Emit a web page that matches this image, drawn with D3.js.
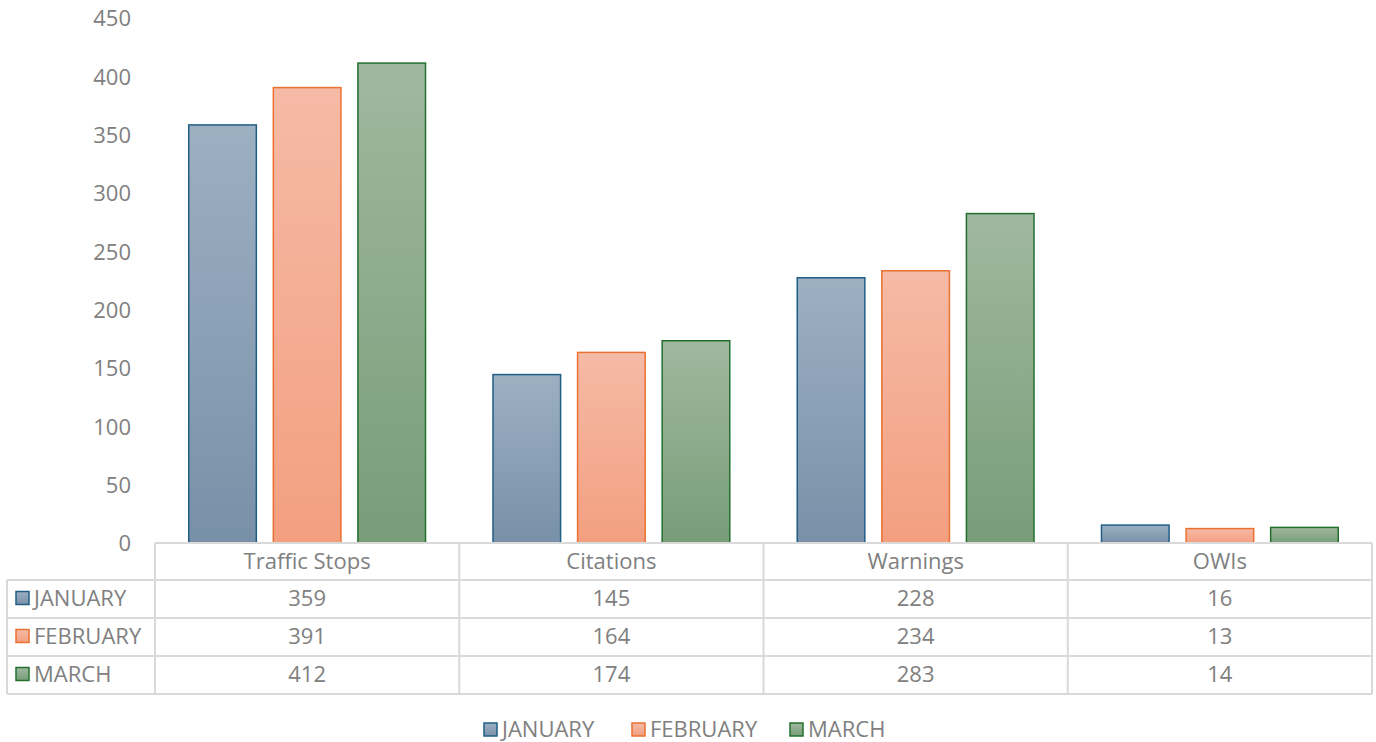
<!DOCTYPE html>
<html><head><meta charset="utf-8">
<script src="https://cdn.jsdelivr.net/npm/d3@7"></script>
<style>body{margin:0;background:#fff;}text{font-family:"Open Sans","Liberation Sans",sans-serif;fill:#808080;}</style>
</head><body>
<svg id="c" width="1376" height="742"></svg>
<script>
const categories = ["Traffic Stops", "Citations", "Warnings", "OWIs"];
const seriesNames = ["JANUARY", "FEBRUARY", "MARCH"];
const january = [359, 145, 228, 16];
const february = [391, 164, 234, 13];
const march = [412, 174, 283, 14];
const yTicks = [0, 50, 100, 150, 200, 250, 300, 350, 400, 450];
const seriesValues = [january, february, march];

const fills = [["#9db0c2", "#7890a8"], ["#f5baa6", "#f39f80"], ["#a0b8a0", "#789d78"]];
const strokes = ["#1f5f85", "#e97132", "#22702e"];
const fs = "22px";

const svg = d3.select("#c");
const defs = svg.append("defs");
fills.forEach((f, i) => {
  const g = defs.append("linearGradient").attr("id", "g" + i).attr("x1", 0).attr("y1", 0).attr("x2", 0).attr("y2", 1);
  g.append("stop").attr("offset", "0%").attr("stop-color", f[0]);
  g.append("stop").attr("offset", "100%").attr("stop-color", f[1]);
});

const plotLeft = 155, plotRight = 1372, plotTop = 18, base = 543;
const x = d3.scaleBand().domain(categories).range([plotLeft, plotRight]).paddingInner(0).paddingOuter(0);
const y = d3.scaleLinear().domain([0, 450]).range([base, plotTop]);
const xs = d3.scaleBand().domain(seriesNames).range([0, x.bandwidth()]).paddingInner(0.183).paddingOuter(0.39);

// y axis labels
const yAxis = d3.axisLeft(y).tickValues(yTicks).tickSize(0).tickPadding(0);
const ya = svg.append("g").attr("transform", `translate(131,0)`).call(yAxis);
ya.select(".domain").remove();
ya.selectAll("text").style("font-size", fs).style("font-family", "'Open Sans', sans-serif").attr("fill", "#808080").attr("dy", "0.35em");

// bars
seriesNames.forEach((s, si) => {
  svg.append("g").selectAll("rect").data(categories).join("rect")
    .attr("x", c => x(c) + xs(s) + 0.75)
    .attr("width", xs.bandwidth() - 1.5)
    .attr("y", (c, ci) => y(seriesValues[si][ci]) + 0.75)
    .attr("height", (c, ci) => base - y(seriesValues[si][ci]) - 0.75)
    .attr("fill", `url(#g${si})`)
    .attr("stroke", strokes[si]).attr("stroke-width", 1.5);
});

// data table
const rowH = 38;
const tableTop = base, tableLeft = 7;
const gridColor = "#d9d9d9";
const tg = svg.append("g");
tg.append("line").attr("x1", plotLeft).attr("x2", plotRight).attr("y1", tableTop).attr("y2", tableTop).attr("stroke", gridColor).attr("stroke-width", 2);
for (let r = 1; r <= 4; r++) {
  tg.append("line").attr("x1", tableLeft).attr("x2", plotRight).attr("y1", tableTop + r * rowH - 1).attr("y2", tableTop + r * rowH - 1).attr("stroke", gridColor).attr("stroke-width", 2);
}
const vx = [plotLeft].concat(categories.map(c => x(c) + x.bandwidth()));
vx.forEach(v => tg.append("line").attr("x1", v).attr("x2", v).attr("y1", tableTop).attr("y2", tableTop + 4 * rowH - 1).attr("stroke", gridColor).attr("stroke-width", 2));
tg.append("line").attr("x1", tableLeft).attr("x2", tableLeft).attr("y1", tableTop + rowH - 1).attr("y2", tableTop + 4 * rowH - 1).attr("stroke", gridColor).attr("stroke-width", 2);

categories.forEach(c => {
  tg.append("text").attr("x", x(c) + x.bandwidth() / 2).attr("y", tableTop + rowH / 2 - 1).attr("dy", "0.35em")
    .attr("text-anchor", "middle").style("font-size", fs).text(c);
});
seriesNames.forEach((s, si) => {
  const cy = tableTop + (si + 1) * rowH + rowH / 2 - 1.5;
  tg.append("rect").attr("x", 16).attr("y", cy - 7).attr("width", 13).attr("height", 13)
    .attr("fill", `url(#g${si})`).attr("stroke", strokes[si]).attr("stroke-width", 1.5);
  tg.append("text").attr("x", 34).attr("y", cy).attr("dy", "0.35em").style("font-size", fs).text(s);
  categories.forEach((c, ci) => {
    tg.append("text").attr("x", x(c) + x.bandwidth() / 2).attr("y", cy).attr("dy", "0.35em")
      .attr("text-anchor", "middle").style("font-size", fs).text(seriesValues[si][ci]);
  });
});

// legend
const legX = [484, 632, 790];
const lg = svg.append("g");
seriesNames.forEach((s, si) => {
  lg.append("rect").attr("x", legX[si]).attr("y", 723).attr("width", 13).attr("height", 13)
    .attr("fill", `url(#g${si})`).attr("stroke", strokes[si]).attr("stroke-width", 1.5);
  lg.append("text").attr("x", legX[si] + 18).attr("y", 729.5).attr("dy", "0.35em").style("font-size", fs).text(s);
});
</script>
</body></html>
